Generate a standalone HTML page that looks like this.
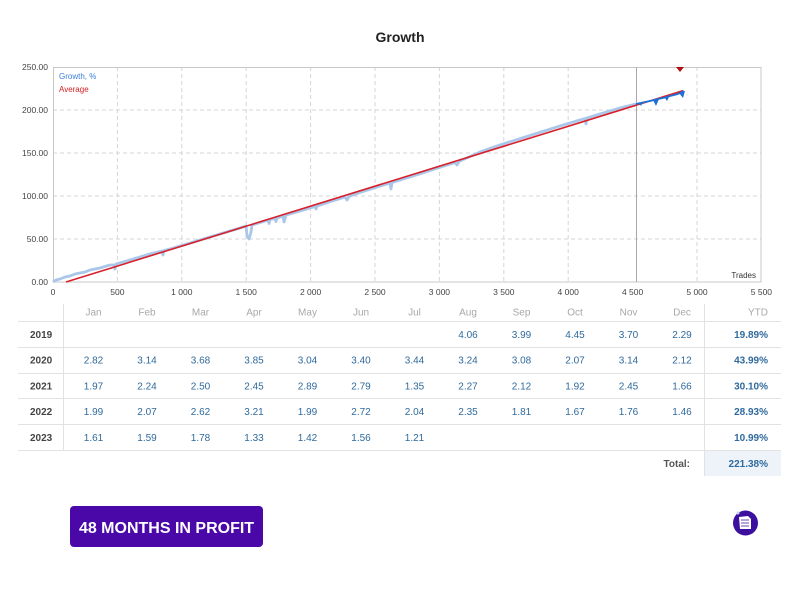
<!DOCTYPE html>
<html>
<head>
<meta charset="utf-8">
<style>
html,body{margin:0;padding:0;background:#fff;}
svg{display:block;font-family:"Liberation Sans",Arial,sans-serif;}
</style>
</head>
<body>
<svg width="800" height="601" viewBox="0 0 800 601" xmlns="http://www.w3.org/2000/svg">
<rect width="800" height="601" fill="#fff"/>
<!-- Title -->
<text x="400" y="42" text-anchor="middle" font-size="14" font-weight="bold" fill="#222">Growth</text>

<!-- Grid -->
<g stroke="#d6d6d6" stroke-width="1" stroke-dasharray="4,3">
<line x1="117.4" y1="67" x2="117.4" y2="282"/>
<line x1="181.8" y1="67" x2="181.8" y2="282"/>
<line x1="246.2" y1="67" x2="246.2" y2="282"/>
<line x1="310.6" y1="67" x2="310.6" y2="282"/>
<line x1="375" y1="67" x2="375" y2="282"/>
<line x1="439.4" y1="67" x2="439.4" y2="282"/>
<line x1="503.8" y1="67" x2="503.8" y2="282"/>
<line x1="568.2" y1="67" x2="568.2" y2="282"/>
<line x1="697" y1="67" x2="697" y2="282"/>
<line x1="53" y1="110" x2="761" y2="110"/>
<line x1="53" y1="153" x2="761" y2="153"/>
<line x1="53" y1="196" x2="761" y2="196"/>
<line x1="53" y1="239" x2="761" y2="239"/>
</g>
<rect x="53.5" y="67.5" width="707.5" height="214.5" fill="none" stroke="#c8c8c8" stroke-width="1"/>
<line x1="636.5" y1="67" x2="636.5" y2="282" stroke="#a8a8a8" stroke-width="1"/>

<!-- Y labels -->
<g font-size="8.5" fill="#444" text-anchor="end">
<text x="48" y="70">250.00</text>
<text x="48" y="113">200.00</text>
<text x="48" y="156">150.00</text>
<text x="48" y="199">100.00</text>
<text x="48" y="242">50.00</text>
<text x="48" y="285">0.00</text>
</g>
<!-- X labels -->
<g font-size="8.5" fill="#444" text-anchor="middle">
<text x="53" y="295">0</text>
<text x="117.4" y="295">500</text>
<text x="181.8" y="295">1 000</text>
<text x="246.2" y="295">1 500</text>
<text x="310.6" y="295">2 000</text>
<text x="375" y="295">2 500</text>
<text x="439.4" y="295">3 000</text>
<text x="503.8" y="295">3 500</text>
<text x="568.2" y="295">4 000</text>
<text x="632.6" y="295">4 500</text>
<text x="697" y="295">5 000</text>
<text x="761.4" y="295">5 500</text>
</g>

<!-- Legend -->
<text x="59" y="79" font-size="8" fill="#3b7dd8">Growth, %</text>
<text x="59" y="92" font-size="8" fill="#d42020">Average</text>
<text x="756" y="278" font-size="8" fill="#333" text-anchor="end">Trades</text>

<!-- Growth light blue -->
<polyline fill="none" stroke="#aac6e8" stroke-width="2.8" stroke-linejoin="round" points="
53,282 56,280 60,279 65,277 70,276 75,274 80,273 85,272 90,270 100,268 110,265 114,265 115,269 116,264 118,263.5 130,260 140,257 150,254 162,251 163,255 164,250.5 170,249 182,245.5 200,240 215,235.5 230,231 240,228 246,226 247,236 249,239 251,232 252,225 260,222.5 268,220 269,223.5 270,219.5 275,218.5 276,221.5 277,218 283,216 284,222 286,215 300,211 310,208 315,206.5 316,209 317,206 330,201.7 345,197 347,200 349,196.5 360,192.4 375,187.7 390,183 391,189 392,182.5 400,180 420,173.8 440,167.3 455,162.5 457,165 459,161.5 470,156.5 480,152 500,145 530,135.5 560,126 585,118.5 586,124 587,118 600,114 620,108 636,104"/>

<!-- Average red -->
<line x1="66" y1="282" x2="683" y2="90.7" stroke="#d8202a" stroke-width="1.6"/>

<!-- Growth dark blue segment -->
<polyline fill="none" stroke="#1f6fd6" stroke-width="1.8" stroke-linejoin="round" points="
636,104 645,102 650,101 656,99.5 665,97.5 670,96 678,94 684,91"/>
<g fill="#1f6fd6">
<polygon points="639,103 643,102 641,106"/>
<polygon points="653,100 659,99 656,106"/>
<polygon points="665,98 669,97 667,101"/>
<polygon points="679,93 685,91 683,98"/>
</g>

<!-- Red marker -->
<polygon points="676,67 684,67 680,72" fill="#b01010"/>

<!-- Table -->
<g stroke="#e2e2e2" stroke-width="1">
<line x1="18" y1="321.5" x2="781" y2="321.5"/>
<line x1="18" y1="347.5" x2="781" y2="347.5"/>
<line x1="18" y1="373.5" x2="781" y2="373.5"/>
<line x1="18" y1="398.5" x2="781" y2="398.5"/>
<line x1="18" y1="424.5" x2="781" y2="424.5"/>
<line x1="18" y1="450.5" x2="781" y2="450.5"/>
<line x1="63.5" y1="304" x2="63.5" y2="450"/>
<line x1="704.5" y1="304" x2="704.5" y2="476"/>
</g>
<rect x="705" y="451" width="76" height="25" fill="#eef3fa"/>

<g font-size="10" fill="#a8a8a8" text-anchor="middle">
<text x="93.5" y="315.5">Jan</text>
<text x="147" y="315.5">Feb</text>
<text x="200.5" y="315.5">Mar</text>
<text x="254" y="315.5">Apr</text>
<text x="307.5" y="315.5">May</text>
<text x="361" y="315.5">Jun</text>
<text x="414.5" y="315.5">Jul</text>
<text x="468" y="315.5">Aug</text>
<text x="521.5" y="315.5">Sep</text>
<text x="575" y="315.5">Oct</text>
<text x="628.5" y="315.5">Nov</text>
<text x="682" y="315.5">Dec</text>
<text x="768" y="315.5" text-anchor="end">YTD</text>
</g>

<g font-size="10" font-weight="bold" fill="#444">
<text x="30" y="338">2019</text>
<text x="30" y="363.5">2020</text>
<text x="30" y="389.5">2021</text>
<text x="30" y="415">2022</text>
<text x="30" y="441">2023</text>
</g>

<g font-size="10" fill="#2f6a9c" text-anchor="middle">
<!-- 2019 -->
<text x="468" y="338">4.06</text>
<text x="521.5" y="338">3.99</text>
<text x="575" y="338">4.45</text>
<text x="628.5" y="338">3.70</text>
<text x="682" y="338">2.29</text>
<!-- 2020 -->
<text x="93.5" y="363.5">2.82</text>
<text x="147" y="363.5">3.14</text>
<text x="200.5" y="363.5">3.68</text>
<text x="254" y="363.5">3.85</text>
<text x="307.5" y="363.5">3.04</text>
<text x="361" y="363.5">3.40</text>
<text x="414.5" y="363.5">3.44</text>
<text x="468" y="363.5">3.24</text>
<text x="521.5" y="363.5">3.08</text>
<text x="575" y="363.5">2.07</text>
<text x="628.5" y="363.5">3.14</text>
<text x="682" y="363.5">2.12</text>
<!-- 2021 -->
<text x="93.5" y="389.5">1.97</text>
<text x="147" y="389.5">2.24</text>
<text x="200.5" y="389.5">2.50</text>
<text x="254" y="389.5">2.45</text>
<text x="307.5" y="389.5">2.89</text>
<text x="361" y="389.5">2.79</text>
<text x="414.5" y="389.5">1.35</text>
<text x="468" y="389.5">2.27</text>
<text x="521.5" y="389.5">2.12</text>
<text x="575" y="389.5">1.92</text>
<text x="628.5" y="389.5">2.45</text>
<text x="682" y="389.5">1.66</text>
<!-- 2022 -->
<text x="93.5" y="415">1.99</text>
<text x="147" y="415">2.07</text>
<text x="200.5" y="415">2.62</text>
<text x="254" y="415">3.21</text>
<text x="307.5" y="415">1.99</text>
<text x="361" y="415">2.72</text>
<text x="414.5" y="415">2.04</text>
<text x="468" y="415">2.35</text>
<text x="521.5" y="415">1.81</text>
<text x="575" y="415">1.67</text>
<text x="628.5" y="415">1.76</text>
<text x="682" y="415">1.46</text>
<!-- 2023 -->
<text x="93.5" y="441">1.61</text>
<text x="147" y="441">1.59</text>
<text x="200.5" y="441">1.78</text>
<text x="254" y="441">1.33</text>
<text x="307.5" y="441">1.42</text>
<text x="361" y="441">1.56</text>
<text x="414.5" y="441">1.21</text>
</g>

<g font-size="10" font-weight="bold" fill="#2f6a9c" text-anchor="end">
<text x="768" y="338">19.89%</text>
<text x="768" y="363.5">43.99%</text>
<text x="768" y="389.5">30.10%</text>
<text x="768" y="415">28.93%</text>
<text x="768" y="441">10.99%</text>
<text x="768" y="467">221.38%</text>
</g>
<text x="690" y="467" font-size="10" font-weight="bold" fill="#555" text-anchor="end">Total:</text>

<!-- Button -->
<rect x="70" y="506" width="193" height="41" rx="4" fill="#4a08a8"/>
<text x="166.5" y="533" font-size="16" font-weight="bold" fill="#fff" text-anchor="middle">48 MONTHS IN PROFIT</text>

<!-- Icon -->
<circle cx="745.5" cy="523" r="12.5" fill="#3d0f9e"/>
<path d="M739,517 L748,516 L751,519 L751,529 L740,529 Z" fill="#fff"/>
<path d="M741,520 L749,520 M741,523 L749,523 M741,526 L749,526" stroke="#3d0f9e" stroke-width="0.8"/>
<circle cx="738" cy="513" r="1.5" fill="#c9d4f2"/>
</svg>
</body>
</html>
